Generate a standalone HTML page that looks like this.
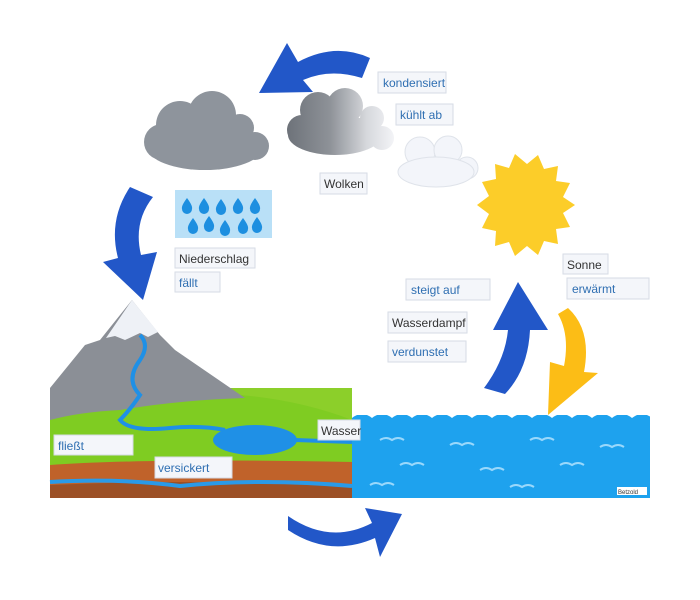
<!DOCTYPE html>
<html><head><meta charset="utf-8"><style>
html,body{margin:0;padding:0;background:#fff}
svg{display:block}
text{font-family:"Liberation Sans",sans-serif;font-size:12px}
.b{fill:#2f6fb2}.d{fill:#333}
.lb{fill:#f4f6fa;stroke:#d6dbe4;stroke-width:1}
</style></head><body>
<svg width="700" height="600" viewBox="0 0 700 600">
<defs>
<linearGradient id="g2" gradientUnits="userSpaceOnUse" x1="288" x2="393" y1="0" y2="0"><stop offset="0" stop-color="#6e737a"/><stop offset="0.4" stop-color="#8e9298"/><stop offset="0.75" stop-color="#d6d8dc"/><stop offset="1" stop-color="#f2f3f6"/></linearGradient>
<path id="drop" d="M0 -8 Q6 0 5 3 A5 5 0 0 1 -5 3 Q-6 0 0 -8Z"/>
</defs>
<!-- ground panel -->
<rect x="50" y="388" width="302" height="110" fill="#8ccf2a"/>
<path d="M50 395 Q150 398 240 395 Q300 400 352 420 L352 498 L50 498Z" fill="#7fcc22"/>
<path d="M50 465 Q150 458 352 462 L352 498 L50 498Z" fill="#c0622a"/>
<path d="M50 485 Q200 478 352 487 L352 498 L50 498Z" fill="#9c5026"/>
<path d="M50 482 Q120 478 180 486 Q260 478 352 486" stroke="#2a9ae8" stroke-width="4" fill="none"/>
<!-- mountain -->
<path d="M50 388 L85 345 L100 340 L132 300 L160 335 L175 350 L245 398 Q180 400 120 410 Q80 412 50 420Z" fill="#8b8f96"/>
<path d="M106 338 L132 300 L158 332 L148 337 L140 333 L125 340 L115 336Z" fill="#eef1f6"/>
<path d="M140 335 Q150 345 140 360 Q125 380 140 395 Q130 410 120 420 Q130 432 170 428 Q200 425 225 430" stroke="#1f90e6" stroke-width="4" fill="none"/>
<ellipse cx="255" cy="440" rx="42" ry="15" fill="#1f90e6"/>
<path d="M295 440 L352 442" stroke="#1f90e6" stroke-width="4"/>
<!-- sea -->
<rect x="352" y="415" width="298" height="83" fill="#1ea2ee"/>
<path d="M352 418 q10 -8 20 0 q10 -8 20 0 q10 -8 20 0 q10 -8 20 0 q10 -8 20 0 q10 -8 20 0 q10 -8 20 0 q10 -8 20 0 q10 -8 20 0 q10 -8 20 0 q10 -8 20 0 q10 -8 20 0 q10 -8 20 0 q10 -8 20 0 q10 -8 20 0 L650 408 L352 408Z" fill="#fff"/>
<g stroke="#9ad8fb" stroke-width="2" fill="none">
<path d="M380 440 q6 -4 12 0 q6 -4 12 0"/><path d="M450 445 q6 -4 12 0 q6 -4 12 0"/><path d="M530 440 q6 -4 12 0 q6 -4 12 0"/><path d="M600 447 q6 -4 12 0 q6 -4 12 0"/>
<path d="M400 465 q6 -4 12 0 q6 -4 12 0"/><path d="M480 470 q6 -4 12 0 q6 -4 12 0"/><path d="M560 465 q6 -4 12 0 q6 -4 12 0"/><path d="M370 485 q6 -4 12 0 q6 -4 12 0"/><path d="M510 487 q6 -4 12 0 q6 -4 12 0"/>
</g>
<rect x="617" y="487" width="30" height="8" fill="#fff"/><text x="618" y="494" style="font-size:6px" fill="#333">Betzold</text>
<!-- clouds -->
<g fill="#8e949c"><circle cx="180" cy="125" r="24"/><circle cx="212" cy="115" r="24"/><circle cx="240" cy="128" r="14"/><circle cx="255" cy="146" r="14"/><ellipse cx="205" cy="148" rx="57" ry="22"/><circle cx="162" cy="142" r="18"/></g>
<g fill="url(#g2)"><circle cx="318" cy="110" r="18"/><circle cx="345" cy="106" r="18"/><circle cx="372" cy="118" r="12"/><circle cx="382" cy="138" r="12"/><ellipse cx="335" cy="135" rx="47" ry="20"/><circle cx="302" cy="130" r="15"/></g>
<g fill="#f3f5fa" stroke="#dfe3ea"><circle cx="420" cy="152" r="15"/><circle cx="448" cy="150" r="14"/><circle cx="467" cy="168" r="11"/><ellipse cx="436" cy="172" rx="38" ry="15"/></g>
<!-- rain -->
<rect x="175" y="190" width="97" height="48" fill="#b9e0f7"/>
<g fill="#1d8fe0">
<use href="#drop" x="187" y="206"/><use href="#drop" x="204" y="206"/><use href="#drop" x="221" y="207"/><use href="#drop" x="238" y="206"/><use href="#drop" x="255" y="206"/>
<use href="#drop" x="193" y="226"/><use href="#drop" x="209" y="224" transform="scale(1)"/><use href="#drop" x="225" y="228"/><use href="#drop" x="243" y="226"/><use href="#drop" x="257" y="225"/>
</g>
<!-- sun -->
<polygon fill="#fccd29" points="575,205 563,213 570,227 556,229 558,244 544,241 538,255 527,246 515,256 509,242 495,246 496,231 482,228 489,214 477,205 489,196 482,182 496,179 495,164 509,168 515,154 527,164 538,155 544,169 558,166 556,181 570,183 563,197"/>
<!-- arrows -->
<g fill="#2257c8">
<path d="M370 58 Q335 42 298 62 L287 43 L259 93 L313 92 L303 80 Q330 68 362 78Z"/>
<path d="M130 187 Q108 220 118 258 L103 262 L143 300 L157 252 L141 255 Q133 222 153 197Z"/>
<path d="M288 516 Q330 545 372 523 L365 508 L402 514 L380 557 L375 538 Q330 558 288 530Z"/>
<path d="M484 388 Q505 360 508 330 L493 330 L518 282 L548 330 L530 330 Q528 370 505 394Z"/>
</g>
<path fill="#fcbd16" d="M568 308 Q592 330 584 372 L598 373 L548 415 L550 362 L564 366 Q570 335 558 314Z"/>
<!-- labels -->
<g>
<rect class="lb" x="378" y="72" width="68" height="21"/><text class="b" x="383" y="87">kondensiert</text>
<rect class="lb" x="396" y="104" width="57" height="21"/><text class="b" x="400" y="119">kühlt ab</text>
<rect class="lb" x="320" y="173" width="47" height="21"/><text class="d" x="324" y="188">Wolken</text>
<rect class="lb" x="175" y="248" width="80" height="20"/><text class="d" x="179" y="263">Niederschlag</text>
<rect class="lb" x="175" y="272" width="45" height="20"/><text class="b" x="179" y="287">fällt</text>
<rect class="lb" x="406" y="279" width="84" height="21"/><text class="b" x="411" y="294">steigt auf</text>
<rect class="lb" x="388" y="312" width="79" height="21"/><text class="d" x="392" y="327">Wasserdampf</text>
<rect class="lb" x="388" y="341" width="78" height="21"/><text class="b" x="392" y="356">verdunstet</text>
<rect class="lb" x="563" y="254" width="45" height="20"/><text class="d" x="567" y="269">Sonne</text>
<rect class="lb" x="567" y="278" width="82" height="21"/><text class="b" x="572" y="293">erwärmt</text>
<rect class="lb" x="318" y="420" width="42" height="20"/><text class="d" x="321" y="435">Wasser</text>
<rect class="lb" x="54" y="435" width="79" height="20"/><text class="b" x="58" y="450">fließt</text>
<rect class="lb" x="155" y="457" width="77" height="21"/><text class="b" x="158" y="472">versickert</text>
</g>
</svg>
</body></html>
